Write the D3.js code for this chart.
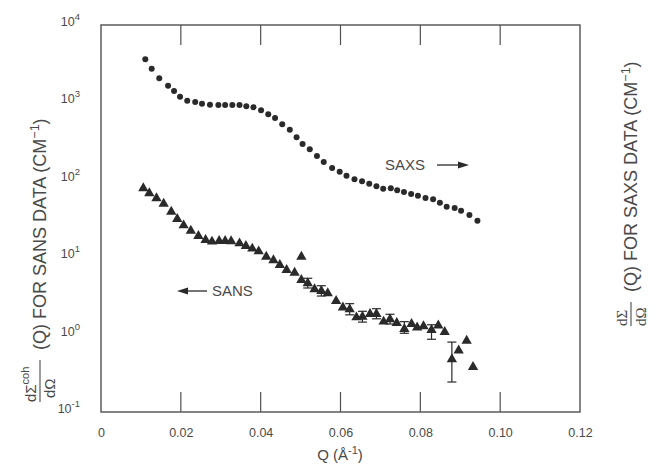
<!DOCTYPE html>
<html><head><meta charset="utf-8">
<script src="https://cdn.jsdelivr.net/npm/d3@7/dist/d3.min.js"></script>
<style>body{margin:0;background:#fff}svg{display:block}</style>
</head><body><svg id="c" width="658" height="467"></svg>
<script>
// SAXS data (circles)
const saxsQ = [0.0111,0.0127,0.0146,0.0168,0.0183,0.0198,0.0216,0.0236,0.0253,0.0273,0.0294,0.0311,0.0329,0.0347,0.0364,0.0382,0.0401,0.0419,0.0436,0.0454,0.0473,0.0490,0.0505,0.0523,0.0541,0.0558,0.0579,0.0598,0.0615,0.0635,0.0654,0.0672,0.0690,0.0707,0.0726,0.0742,0.0759,0.0777,0.0794,0.0813,0.0832,0.0849,0.0866,0.0886,0.0902,0.0923,0.0943];
const saxsI = [3606,2725,2049,1643,1403,1185,1052,1012,962,934,926,926,926,926,891,865,791,702,629,521,444,354,290,248,203,170,142,127,113,102,95.6,89.0,82.4,76.7,77.6,73.2,69.6,65.6,62.3,58.2,56.0,50.6,44.9,43.2,39.9,35.1,29.6];
// SANS data (triangles)
const sansQ = [0.0106,0.0121,0.0139,0.0157,0.0176,0.0191,0.0207,0.0225,0.0244,0.0262,0.0278,0.0296,0.0311,0.0326,0.0347,0.0363,0.0379,0.0395,0.0414,0.0432,0.0448,0.0465,0.0485,0.0502,0.0502,0.0518,0.0535,0.0552,0.0568,0.0589,0.0606,0.0623,0.0640,0.0655,0.0674,0.0690,0.0708,0.0724,0.0741,0.0760,0.0778,0.0792,0.0808,0.0828,0.0845,0.0861,0.0879,0.0896,0.0916,0.0932];
const sansI = [77.6,66.9,57.7,49.1,38.7,31.2,25.8,22.0,18.8,16.7,15.9,16.2,16.2,16.05,15.1,13.95,12.9,11.9,10.15,9.12,7.93,6.83,6.30,10.15,5.07,4.60,3.85,3.66,3.42,2.72,2.24,2.12,1.67,1.70,1.85,1.85,1.47,1.58,1.41,1.18,1.37,1.235,1.28,1.15,1.31,1.08,0.481,0.623,0.834,0.381];
// error bars on selected SANS points
const errQ  = [0.0518,0.0552,0.0623,0.0655,0.0690,0.0724,0.0760,0.0828,0.0879];
const errI  = [4.60,3.66,2.12,1.70,1.85,1.58,1.18,1.15,0.481];
const errHi = [5.34,4.28,2.51,2.0,2.16,1.83,1.47,1.34,0.80];
const errLo = [4.0,3.15,1.80,1.45,1.60,1.37,1.04,0.87,0.244];
const xTicks = [0,0.02,0.04,0.06,0.08,0.10,0.12];
const xTickLabels = ["0","0.02","0.04","0.06","0.08","0.10","0.12"];
const yExps = [-1,0,1,2,3,4];

const svg = d3.select("#c");
const L=101,R=580,T=25,B=412;
const x = d3.scaleLinear().domain([0,0.12]).range([L,R]);
const y = d3.scaleLog().domain([0.1,1e4]).range([B,T]);
const ink="#2a2a2a", txt="#4a4a4a", font="'Liberation Sans', Arial, sans-serif";

// frame
svg.append("rect").attr("x",L).attr("y",T).attr("width",R-L).attr("height",B-T)
  .attr("fill","none").attr("stroke","#505050").attr("stroke-width",1.4);

// bottom axis labels + inward ticks
const inner = xTicks.slice(1,-1);
const gb = svg.append("g").attr("transform",`translate(0,${B})`)
  .call(d3.axisBottom(x).tickValues(xTicks).tickSizeInner(0).tickSizeOuter(0).tickPadding(16)
  .tickFormat((d,i)=>xTickLabels[i]));
gb.select(".domain").remove();
gb.selectAll("text").attr("font-family",font).attr("font-size",12.5).attr("fill",txt);
svg.append("g").selectAll("line").data(inner).join("line")
  .attr("x1",d=>x(d)).attr("x2",d=>x(d)).attr("y1",B).attr("y2",B-20)
  .attr("stroke","#505050").attr("stroke-width",1.2);
svg.append("g").selectAll("line").data(inner).join("line")
  .attr("x1",d=>x(d)).attr("x2",d=>x(d)).attr("y1",T).attr("y2",T+20)
  .attr("stroke","#505050").attr("stroke-width",1.2);

// y tick labels 10^n
const yl = svg.append("g").selectAll("text").data(yExps).join("text")
  .attr("x",80).attr("y",d=>y(Math.pow(10,d))+1)
  .attr("text-anchor","end").attr("font-family",font).attr("font-size",12.5).attr("fill",txt);
yl.append("tspan").text("10");
yl.append("tspan").attr("dy",-6).attr("font-size",9.5).text(d=>d<0?"-1":String(d));

// x axis title
const xt = svg.append("text").attr("x",340).attr("y",460).attr("text-anchor","middle")
  .attr("font-family",font).attr("font-size",15).attr("fill",txt);
xt.append("tspan").text("Q (Å");
xt.append("tspan").attr("dy",-6).attr("font-size",11).text("-1");
xt.append("tspan").attr("dy",6).text(")");

// rotated y titles
function yTitle(cx, bottomY, sup, main, serif){
  const g = svg.append("g").attr("transform",`translate(${cx},${bottomY}) rotate(-90)`);
  const ff = serif ? "'Liberation Serif', 'DejaVu Serif', serif" : font;
  const num = g.append("text").attr("x",0).attr("y",-4).attr("font-family",ff).attr("font-size",15).attr("fill",txt);
  num.append("tspan").text("dΣ");
  let fw = 24;
  if(sup){ num.append("tspan").attr("dy",-7).attr("font-size",11).text(sup); fw = 42; }
  g.append("line").attr("x1",0).attr("x2",fw).attr("y1",0).attr("y2",0).attr("stroke",txt).attr("stroke-width",1.1);
  g.append("text").attr("x",sup?4:0).attr("y",15).attr("font-family",ff).attr("font-size",15).attr("fill",txt).text("dΩ");
  const m = g.append("text").attr("x",fw+10).attr("y",6).attr("font-family",font).attr("font-size",18).attr("fill",txt);
  m.append("tspan").text(main);
  m.append("tspan").attr("dy",-7).attr("font-size",12.5).text("−1");
  m.append("tspan").attr("dy",7).text(")");
}
yTitle(40, 402, "coh", "(Q) FOR SANS DATA (CM", false);
yTitle(631, 326, null, "(Q) FOR SAXS DATA (CM", true);

// SAXS circles
svg.append("g").selectAll("circle").data(saxsQ).join("circle")
  .attr("cx",d=>x(d)).attr("cy",(d,i)=>y(saxsI[i])).attr("r",3).attr("fill",ink);

// error bars
const eb = svg.append("g").attr("stroke",ink).attr("stroke-width",1.2);
errQ.forEach((q,i)=>{
  const cx=x(q);
  eb.append("line").attr("x1",cx).attr("x2",cx).attr("y1",y(errHi[i])).attr("y2",y(errLo[i]));
  eb.append("line").attr("x1",cx-4.5).attr("x2",cx+4.5).attr("y1",y(errHi[i])).attr("y2",y(errHi[i]));
  eb.append("line").attr("x1",cx-4.5).attr("x2",cx+4.5).attr("y1",y(errLo[i])).attr("y2",y(errLo[i]));
});
// SANS triangles
const tri = d3.symbol().type(d3.symbolTriangle).size(46);
svg.append("g").selectAll("path").data(sansQ).join("path")
  .attr("transform",(d,i)=>`translate(${x(d)},${y(sansI[i])})`).attr("d",tri).attr("fill",ink);

// annotations
svg.append("text").attr("x",385).attr("y",170).attr("font-family",font).attr("font-size",15).attr("fill",txt).text("SAXS");
svg.append("line").attr("x1",437).attr("x2",460).attr("y1",165).attr("y2",165).attr("stroke",ink).attr("stroke-width",1.3);
svg.append("path").attr("d","M469,165 L458,161.5 L458,168.5 Z").attr("fill",ink);
svg.append("text").attr("x",212).attr("y",296).attr("font-family",font).attr("font-size",15).attr("fill",txt).text("SANS");
svg.append("line").attr("x1",187).attr("x2",207).attr("y1",291).attr("y2",291).attr("stroke",ink).attr("stroke-width",1.3);
svg.append("path").attr("d","M177,291 L188,287.5 L188,294.5 Z").attr("fill",ink);
</script></body></html>
